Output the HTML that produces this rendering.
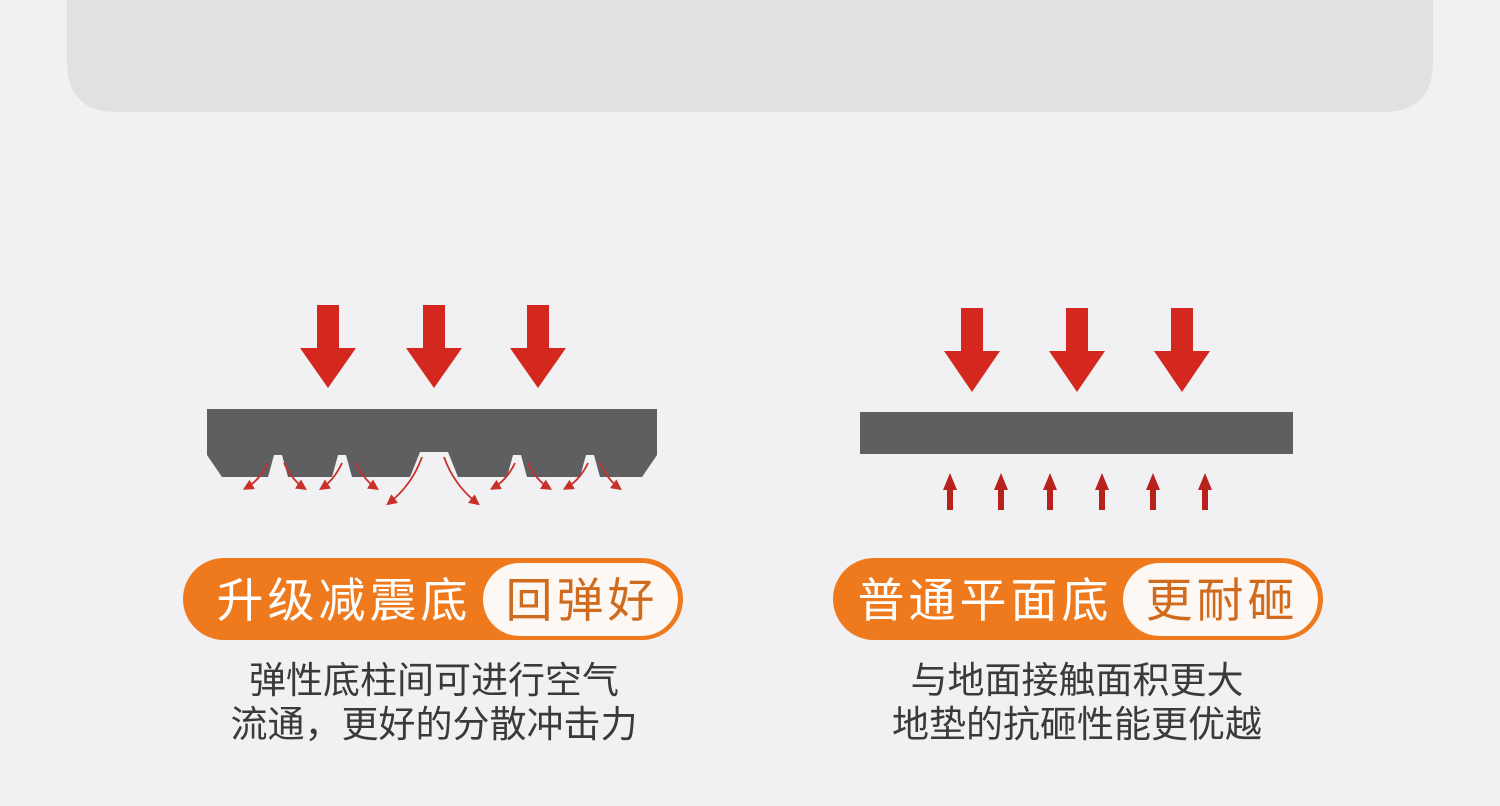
<!DOCTYPE html>
<html><head><meta charset="utf-8"><style>
html,body{margin:0;padding:0;width:1500px;height:806px;background:#f1f0f2;overflow:hidden;font-family:"Liberation Sans","Noto Sans CJK SC",sans-serif}
svg{position:absolute;left:0;top:0}
.t{font-family:"Liberation Sans","Noto Sans CJK SC",sans-serif}
</style></head><body>
<svg width="1500" height="806" viewBox="0 0 1500 806">
<defs>
<marker id="ah" markerWidth="6" markerHeight="6" refX="4" refY="3" orient="auto"><path d="M0,0 L6,3 L0,6 z" fill="#c9302a"/></marker>
</defs>
<path d="M67,-10 H1433 V62 Q1433,112 1383,112 H117 Q67,112 67,62 Z" fill="#e1e1e1"/>
<g fill="#d4281f">
<path d="M317,305 h22 v43 h17 l-28,40 l-28,-40 h17 z"/>
<path d="M423,305 h22 v43 h17 l-28,40 l-28,-40 h17 z"/>
<path d="M527,305 h22 v43 h17 l-28,40 l-28,-40 h17 z"/>
<path d="M961,308 h22 v43 h17 l-28,41 l-28,-41 h17 z"/>
<path d="M1066,308 h22 v43 h17 l-28,41 l-28,-41 h17 z"/>
<path d="M1171,308 h22 v43 h17 l-28,41 l-28,-41 h17 z"/>
</g>
<g fill="#b8221c">
<path d="M947,490 h6 v20 h-6 z M943,490 l7,-17 l7,17 z"/>
<path d="M998,490 h6 v20 h-6 z M994,490 l7,-17 l7,17 z"/>
<path d="M1047,490 h6 v20 h-6 z M1043,490 l7,-17 l7,17 z"/>
<path d="M1099,490 h6 v20 h-6 z M1095,490 l7,-17 l7,17 z"/>
<path d="M1150,490 h6 v20 h-6 z M1146,490 l7,-17 l7,17 z"/>
<path d="M1202,490 h6 v20 h-6 z M1198,490 l7,-17 l7,17 z"/>
</g>
<path d="M207,409 H657 V455 L642,477 H600 L594,455 H586 L580,477 H527 L521,455 H513 L507,477 H458 L448,452 H420 L410,477 H352 L346,455 H338 L332,477 H288 L282,455 H274 L268,477 H222 L207,455 Z" fill="#5f5e60"/>
<rect x="860" y="412" width="433" height="42" fill="#5f5e60"/>
<g fill="none" stroke="#c9302a" stroke-width="1.8" marker-end="url(#ah)">
<path d="M268,463 Q260,480 246,488"/>
<path d="M284,463 Q292,480 304,488"/>
<path d="M342,463 Q334,480 322,488"/>
<path d="M356,463 Q364,480 376,488"/>
<path d="M422,457 Q412,485 389,503"/>
<path d="M444,457 Q454,485 477,503"/>
<path d="M515,463 Q507,480 493,488"/>
<path d="M528,463 Q536,480 549,488"/>
<path d="M588,463 Q580,480 566,488"/>
<path d="M600,463 Q608,480 619,488"/>
</g>
<rect x="183" y="558" width="500" height="82" rx="41" fill="#ef7a1d"/>
<rect x="483" y="563" width="195" height="73" rx="36.5" fill="#fdf8f3"/>
<rect x="833" y="558" width="490" height="82" rx="41" fill="#ef7a1d"/>
<rect x="1123" y="563" width="195" height="73" rx="36.5" fill="#fdf8f3"/>
<g class="t" font-size="47">
<text x="344" y="617" fill="#fff" text-anchor="middle" letter-spacing="4">升级减震底</text>
<text x="582" y="617" fill="#d06a1c" text-anchor="middle" letter-spacing="4">回弹好</text>
<text x="985" y="617" fill="#fff" text-anchor="middle" letter-spacing="4">普通平面底</text>
<text x="1222" y="617" fill="#d06a1c" text-anchor="middle" letter-spacing="4">更耐砸</text>
</g>
<g class="t" font-size="37" fill="#3a3a3a" text-anchor="middle">
<text x="434" y="693">弹性底柱间可进行空气</text>
<text x="434" y="737">流通，更好的分散冲击力</text>
<text x="1077" y="693">与地面接触面积更大</text>
<text x="1077" y="737">地垫的抗砸性能更优越</text>
</g>
</svg>
</body></html>
